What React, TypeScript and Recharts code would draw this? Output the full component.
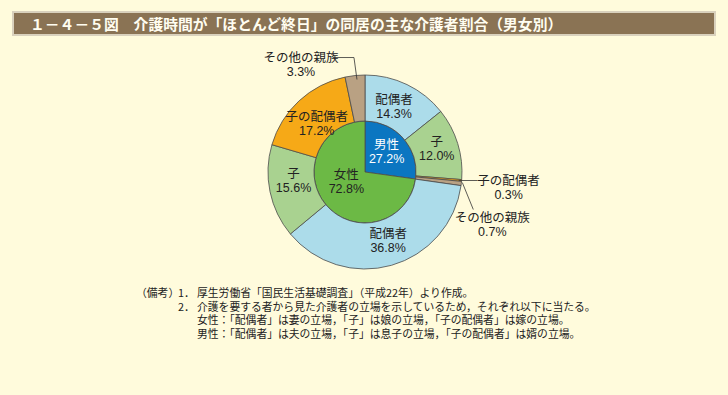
import React from "react";
import { PieChart, Pie, Cell } from "recharts";

const GROUPS = ["男性", "女性"];
const GROUP_SHARE = [27.2, 72.8];
const ROLES = ["配偶者", "子", "子の配偶者", "その他の親族"];
const MALE_SHARE = [14.3, 12.0, 0.3, 0.7];
const FEMALE_SHARE = [36.8, 15.6, 17.2, 3.3];

const TITLE = "１－４－５図　介護時間が「ほとんど終日」の同居の主な介護者割合（男女別）";
const NOTES = [
  "厚生労働省「国民生活基礎調査」（平成22年）より作成。",
  "介護を要する者から見た介護者の立場を示しているため，それぞれ以下に当たる。",
  "女性：「配偶者」は妻の立場，「子」は娘の立場，「子の配偶者」は嫁の立場。",
  "男性：「配偶者」は夫の立場，「子」は息子の立場，「子の配偶者」は婿の立場。",
];

const GROUP_COLORS = ["#0b76c1", "#6cb945"];
const ROLE_COLORS = ["#acdcea", "#a9d290", "#f6a917", "#b9a183"];
const EDGE = "#4b4b4b";
const FONT = "'Liberation Sans', 'Noto Sans CJK JP', sans-serif";
const RADIAN = Math.PI / 180;

const innerData = GROUPS.map((name, i) => ({ name, value: GROUP_SHARE[i] }));
const outerData = [
  ...ROLES.map((name, i) => ({ name, value: MALE_SHARE[i], role: i })),
  ...ROLES.map((name, i) => ({ name, value: FEMALE_SHARE[i], role: i })),
];

// callouts for the thin slices: index -> leader points / text offset from the rim point
const CALLOUTS: Record<number, { pts: number[][]; tx: number; ty: number }> = {
  2: { pts: [[-3, 0], [16, 0]], tx: 47, ty: 5 },
  3: { pts: [[1, -1], [12, 26]], tx: 31, ty: 39 },
  7: { pts: [[2, 4], [-1, -18], [-22, -18]], tx: -54, ty: -13 },
};
// small label nudges (x, y) so text sits where the original put it
const INNER_NUDGE: number[][] = [[-1, -2], [4, -12]];
const OUTER_NUDGE: Record<number, number[]> = {
  0: [-3, 0],
  1: [1, -3],
  4: [3, -4],
  5: [1, -8],
  6: [2, 4],
};

const TwoLines = ({ x, y, a, b, fill }: any) => (
  <text x={x} y={y} textAnchor="middle" fill={fill} fontFamily={FONT} fontSize={12.5}>
    <tspan x={x} dy={-1}>{a}</tspan>
    <tspan x={x} dy={14}>{b}</tspan>
  </text>
);

const innerLabel = (p: any) => {
  const r = 30;
  const [nx, ny] = INNER_NUDGE[p.index] || [0, 0];
  const x = p.cx + r * Math.cos(-p.midAngle * RADIAN) + nx;
  const y = p.cy + r * Math.sin(-p.midAngle * RADIAN) + ny;
  return (
    <TwoLines
      x={x}
      y={y}
      a={p.name}
      b={`${p.value.toFixed(1)}%`}
      fill={p.index === 0 ? "#ffffff" : "#222"}
    />
  );
};

const outerLabel = (p: any) => {
  const cos = Math.cos(-p.midAngle * RADIAN);
  const sin = Math.sin(-p.midAngle * RADIAN);
  const text = `${p.value.toFixed(1)}%`;
  const call = CALLOUTS[p.index];
  if (call) {
    const ox = p.cx + p.outerRadius * cos;
    const oy = p.cy + p.outerRadius * sin;
    const pts = call.pts.map(([dx, dy]) => `${ox + dx},${oy + dy}`).join(" ");
    return (
      <g>
        <polyline points={pts} fill="none" stroke="#333" strokeWidth={0.8} />
        <TwoLines x={ox + call.tx} y={oy + call.ty} a={p.name} b={text} fill="#222" />
      </g>
    );
  }
  const r = (p.innerRadius + p.outerRadius) / 2;
  const [nx, ny] = OUTER_NUDGE[p.index] || [0, 0];
  return (
    <TwoLines
      x={p.cx + r * cos + nx}
      y={p.cy + r * sin + ny}
      a={p.name}
      b={text}
      fill="#222"
    />
  );
};

export default function App() {
  return (
    <div
      style={{
        position: "absolute",
        left: 0,
        top: 0,
        width: 728,
        height: 395,
        background: "#fffbdc",
        fontFamily: FONT,
        overflow: "hidden",
      }}
    >
      <div
        style={{
          position: "absolute",
          left: 12,
          top: 11,
          width: 700,
          height: 21,
          background: "#8a7354",
          border: "2px solid #d9d1bd",
          boxSizing: "content-box",
        }}
      >
        <div
          style={{
            position: "absolute",
            left: 16,
            top: 0,
            color: "#fffdf0",
            fontSize: 14.8,
            fontWeight: 700,
            lineHeight: "21px",
            fontFamily: "'Noto Sans CJK JP', sans-serif",
            whiteSpace: "nowrap",
          }}
        >
          {TITLE}
        </div>
      </div>
      <div style={{ position: "absolute", left: 0, top: 0 }}>
        <PieChart width={728} height={395}>
          <Pie
            data={innerData}
            dataKey="value"
            cx={360}
            cy={167}
            outerRadius={51}
            startAngle={90}
            endAngle={-270}
            stroke={EDGE}
            strokeWidth={0.8}
            label={innerLabel}
            labelLine={false}
            isAnimationActive={false}
          >
            {innerData.map((d, i) => (
              <Cell key={d.name} fill={GROUP_COLORS[i]} />
            ))}
          </Pie>
          <Pie
            data={outerData}
            dataKey="value"
            cx={360}
            cy={167}
            innerRadius={51}
            outerRadius={97}
            startAngle={90}
            endAngle={-270}
            stroke={EDGE}
            strokeWidth={0.8}
            label={outerLabel}
            labelLine={false}
            isAnimationActive={false}
          >
            {outerData.map((d, i) => (
              <Cell key={i} fill={ROLE_COLORS[d.role]} />
            ))}
          </Pie>
        </PieChart>
      </div>
      <div
        style={{
          position: "absolute",
          left: 136,
          top: 286,
          fontSize: 10.8,
          lineHeight: "13.5px",
          color: "#222",
          fontFamily: "'Noto Sans CJK JP', sans-serif",
          whiteSpace: "nowrap",
        }}
      >
        <div>
          <span style={{ display: "inline-block", width: 42 }}>（備考）</span>
          <span style={{ display: "inline-block", width: 19 }}>1．</span>
          {NOTES[0]}
        </div>
        <div>
          <span style={{ display: "inline-block", width: 42 }} />
          <span style={{ display: "inline-block", width: 19 }}>2．</span>
          {NOTES[1]}
        </div>
        <div style={{ paddingLeft: 61 }}>{NOTES[2]}</div>
        <div style={{ paddingLeft: 61 }}>{NOTES[3]}</div>
      </div>
    </div>
  );
}
